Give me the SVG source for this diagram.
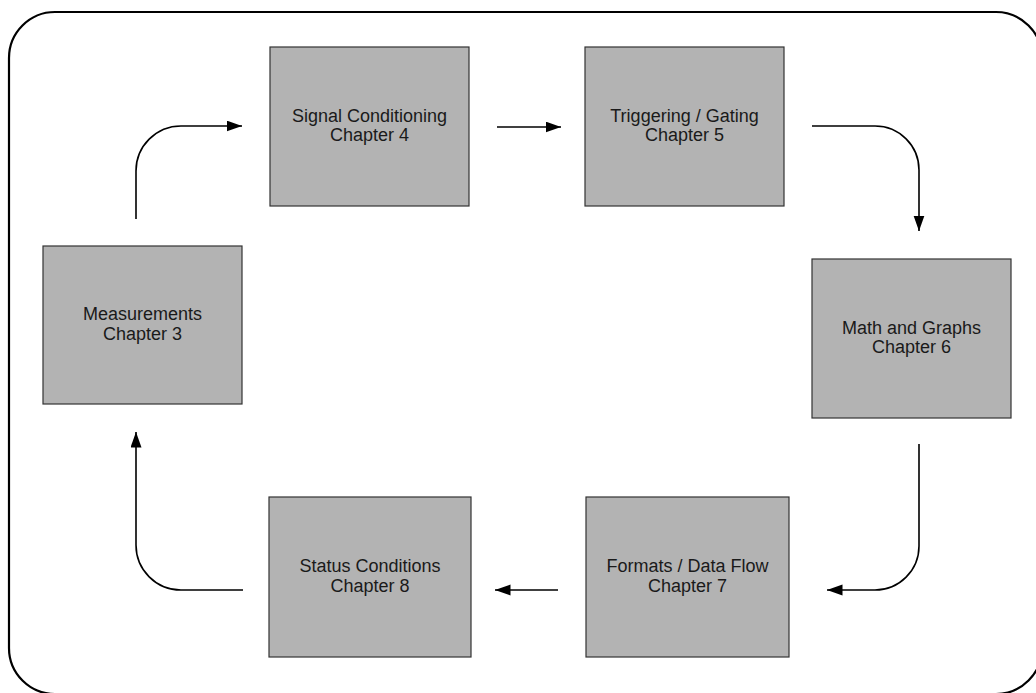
<svg xmlns="http://www.w3.org/2000/svg" width="1036" height="693" viewBox="0 0 1036 693">
<defs>
<marker id="ah" markerUnits="userSpaceOnUse" markerWidth="16" markerHeight="12" refX="15.5" refY="5.5" orient="auto">
<path d="M0,0 L15.5,5.5 L0,11 Z" fill="#000"/>
</marker>
<style>
.frame{fill:none;stroke:#000;stroke-width:2.2}
.box{fill:#b3b3b3;stroke:#333;stroke-width:1.2}
.lbl{font-family:"Liberation Sans",Arial,sans-serif;font-size:18px;fill:#1a1a1a;text-anchor:middle}
.con{fill:none;stroke:#000;stroke-width:1.6;marker-end:url(#ah)}
</style>
</defs>
<rect width="1036" height="693" fill="#fff"/>
<rect class="frame" x="9" y="12" width="1033" height="682" rx="46" ry="46"/>
<g id="measurements">
<rect class="box" x="43" y="246" width="199" height="158"/>
<text class="lbl" x="142.5" y="320">Measurements</text>
<text class="lbl" x="142.5" y="340">Chapter 3</text>
</g>
<g id="signal">
<rect class="box" x="270" y="47" width="199" height="159"/>
<text class="lbl" x="369.5" y="122">Signal Conditioning</text>
<text class="lbl" x="369.5" y="141">Chapter 4</text>
</g>
<g id="trigger">
<rect class="box" x="585" y="47" width="199" height="159"/>
<text class="lbl" x="684.5" y="122">Triggering / Gating</text>
<text class="lbl" x="684.5" y="141">Chapter 5</text>
</g>
<g id="math">
<rect class="box" x="812" y="259" width="199" height="159"/>
<text class="lbl" x="911.5" y="334">Math and Graphs</text>
<text class="lbl" x="911.5" y="353">Chapter 6</text>
</g>
<g id="formats">
<rect class="box" x="586" y="497" width="203" height="160"/>
<text class="lbl" x="687.5" y="572">Formats / Data Flow</text>
<text class="lbl" x="687.5" y="592">Chapter 7</text>
</g>
<g id="status">
<rect class="box" x="269" y="497" width="202" height="160"/>
<text class="lbl" x="370" y="572">Status Conditions</text>
<text class="lbl" x="370" y="592">Chapter 8</text>
</g>
<g id="connectors">
<path class="con" d="M136,219 V171 A45,45 0 0 1 181,126 H242"/>
<path class="con" d="M497,127 H561"/>
<path class="con" d="M812,126 H875 A44,44 0 0 1 919,170 V231"/>
<path class="con" d="M919,444 V546 A44,44 0 0 1 875,590 H827"/>
<path class="con" d="M558,590 H495"/>
<path class="con" d="M243,590 H181 A45,45 0 0 1 136,545 V432"/>
</g>
</svg>
